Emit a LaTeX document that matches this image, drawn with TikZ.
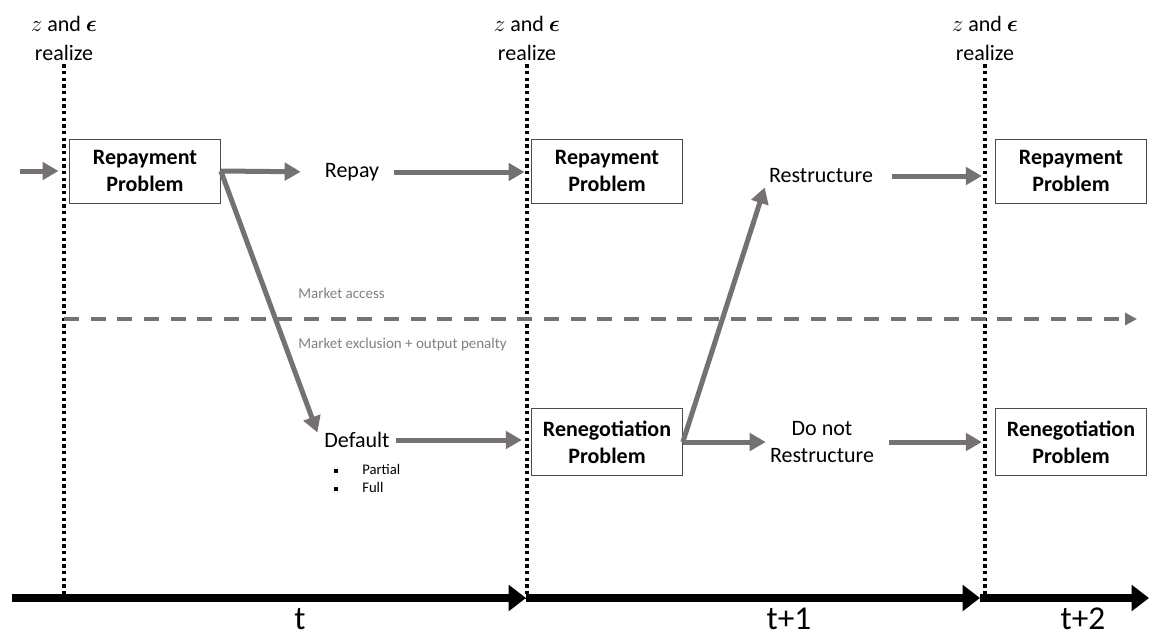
\documentclass[tikz,border=0pt]{standalone}
\usepackage{amsmath,amssymb}
\usepackage{fontspec}
\setmainfont{Carlito}
\usetikzlibrary{arrows.meta}
\definecolor{arrgray}{RGB}{118,113,113}
\definecolor{txtgray}{RGB}{128,128,128}

\begin{document}
\begin{tikzpicture}[x=0.75pt, y=-0.75pt,
  every node/.style={font=\fontsize{16.5}{20}\selectfont, inner sep=3pt},
  box/.style={draw=black!70, line width=0.75pt, minimum width=113pt, minimum height=48pt, align=center, font=\fontsize{16.5}{20}\selectfont\bfseries},
  lbl/.style={align=center},
  when/.style={align=center, font=\fontsize{16.5}{21.75}\selectfont},
  flow/.style={draw=arrgray, line width=3.75pt, -{Triangle[length=12pt,width=13pt]}},
  tline/.style={black, line width=2.4pt, dash pattern=on 2.4pt off 2.6pt},
  axis/.style={black, line width=6pt, -{Triangle[length=13pt,width=19pt]}},
  period/.style={font=\fontsize{25}{30}\selectfont, anchor=base, inner sep=1pt},
  small/.style={font=\fontsize{11.25}{13.5}\selectfont, text=txtgray, anchor=west, inner sep=0pt}]
  \useasboundingbox (0,0) rectangle (1149,637);

  \node[when] (r1) at (64,38) {$z$ and $\boldsymbol{\epsilon}$\\realize};
  \node[when] (r2) at (527,38) {$z$ and $\boldsymbol{\epsilon}$\\realize};
  \node[when] (r3) at (985,38) {$z$ and $\boldsymbol{\epsilon}$\\realize};

  \coordinate (a0) at (12,598);
  \coordinate (a1) at (526,598);
  \coordinate (a2) at (980,598);
  \coordinate (a3) at (1149,598);

  \foreach \n in {r1,r2,r3}
    \draw[tline] (\n.south) -- (\n.south |- a0);

  \node[box] (rp1) at (145,171) {Repayment\\Problem};
  \node[box] (rp2) at (607,171) {Repayment\\Problem};
  \node[box] (rp3) at (1071,171) {Repayment\\Problem};
  \node[box, minimum height=50pt] (rn2) at (607,442) {Renegotiation\\Problem};
  \node[box, minimum height=50pt] (rn3) at (1071,442) {Renegotiation\\Problem};

  \node[lbl] (repay) at (352,172) {Repay};
  \node[lbl] (dflt) at (357,440) {Default};
  \node[lbl] (restr) at (821,176) {Restructure};
  \node[lbl] (nores) at (822,442) {Do not\\Restructure};

  \node[anchor=north west, inner sep=0pt, font=\fontsize{11}{13.5}\selectfont] (parts) at (334,462)
    {\begin{tabular}{@{}l@{\hspace{18pt}}l@{}}\rule[1.5pt]{3pt}{3pt} & Partial\\ \rule[1.5pt]{3pt}{3pt} & Full\end{tabular}};

  \node[small] (acc) at (298,293) {Market access};
  \node[small] (excl) at (298,344) {Market exclusion + output penalty};
  \coordinate (ms) at (64,319);
  \coordinate (me) at (1137,319);
  \draw[arrgray, line width=3pt, dash pattern=on 11.25pt off 8.75pt, -{Triangle[length=9pt,width=9pt]}] (ms) -- (me);

  \coordinate (in) at (20,171);
  \draw[flow, shorten >=8pt] (in) -- (rp1.west);
  \draw[flow, shorten >=15pt] (rp1.east) -- (repay.west);
  \draw[flow, shorten <=8pt, shorten >=5pt] (repay.east) -- (repay -| rp2.west);
  \draw[flow, shorten >=6pt] (rp1.east) -- (dflt.west);
  \draw[flow, shorten <=2pt, shorten >=7pt] (dflt.east) -- (dflt -| rn2.west);
  \draw[flow] (rn2.east) -- (restr.south west);
  \draw[flow] (rn2.east) -- (nores.west);
  \draw[flow, shorten <=11pt, shorten >=10pt] (restr.east) -- (restr -| rp3.west);
  \draw[flow, shorten <=8pt, shorten >=10pt] (nores.east) -- (nores -| rn3.west);

  \draw[axis] (a0) -- (a1);
  \draw[axis] (a1) -- (a2);
  \draw[axis] (a2) -- (a3);
  \node[period] (t0) at (300,629) {t};
  \node[period] (t1) at (789,629) {t+1};
  \node[period] (t2) at (1083,629) {t+2};
\end{tikzpicture}
\end{document}
